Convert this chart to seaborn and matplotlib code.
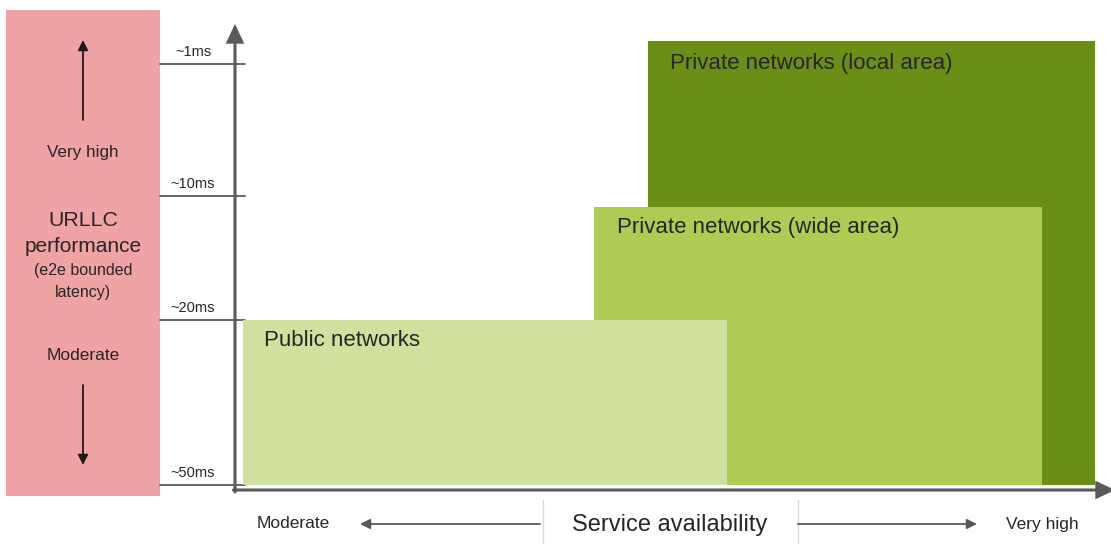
import matplotlib
matplotlib.use("Agg")
import matplotlib.pyplot as plt
from matplotlib.patches import Rectangle
import seaborn as sns

# ---- data ----
networks = ["Private networks (local area)", "Private networks (wide area)", "Public networks"]
avail_start = [41.3, 35.9, 0.8]
avail_end = [86.0, 80.7, 49.2]
latency_top = [44.9, 28.3, 17.0]
latency_bottom = [0.5, 0.5, 0.5]
colors = ["#6B8E17", "#AECB53", "#D0E09D"]

latency_ticks = [0.5, 17.0, 29.4, 42.6]
latency_labels = ["~50ms", "~20ms", "~10ms", "~1ms"]

sns.set_theme(style="white")
plt.rcParams['font.family'] = ['Liberation Sans', 'DejaVu Sans']

TXT = "#262626"
GRAY = "#595959"

fig = plt.figure(figsize=(11.11, 5.44), dpi=100)
W, H = 1111, 544
ax = fig.add_axes([235 / W, (H - 490) / H, (W - 235) / W, (490 - 25) / H])
ax.set_xlim(0, 87.6)
ax.set_ylim(0, 46.5)
for s in ax.spines.values():
    s.set_visible(False)
ax.set_xticks([])
ax.set_yticks([])
ax.patch.set_alpha(0)

# pink panel
ax.add_patch(Rectangle((-22.9, -0.6), 15.4, 48.6, facecolor="#EFA3A5",
                       edgecolor="none", clip_on=False, zorder=0))

# bars
for name, x0, x1, y0, y1, c in zip(networks, avail_start, avail_end,
                                     latency_bottom, latency_top, colors):
    ax.bar(x0, y1 - y0, width=x1 - x0, bottom=y0, align="edge",
           color=c, edgecolor="none", zorder=2)

label_pos = [(43.5, 42.7), (38.2, 26.3), (2.9, 15.0)]
for name, (lx, ly) in zip(networks, label_pos):
    ax.text(lx, ly, name, fontsize=16, color=TXT, ha="left", va="center", zorder=3)

# latency ticks
for t, lab in zip(latency_ticks, latency_labels):
    ax.plot([-7.5, 1.0], [t, t], color=GRAY, lw=1.3, clip_on=False, zorder=1)
    ax.text(-4.2, t + 1.2, lab, fontsize=10.5, color=TXT, ha="center",
            va="center", clip_on=False)

# axes arrows
big = "-|>,head_length=0.7,head_width=0.33"
ax.annotate("", xy=(0, 46.6), xytext=(0, -0.2), annotation_clip=False,
            arrowprops=dict(arrowstyle=big, lw=2.2, color=GRAY, joinstyle="miter",
                            mutation_scale=15, shrinkA=0, shrinkB=0), zorder=4)
ax.annotate("", xy=(88.0, 0), xytext=(-0.15, 0), annotation_clip=False,
            arrowprops=dict(arrowstyle=big, lw=2.2, color=GRAY, joinstyle="miter",
                            mutation_scale=15, shrinkA=0, shrinkB=0), zorder=4)

# left panel texts
small = "-|>,head_length=0.6,head_width=0.3"
cx = -15.2
ax.annotate("", xy=(cx, 45.0), xytext=(cx, 37.0), annotation_clip=False,
            arrowprops=dict(arrowstyle=small, lw=1.3, color="#1a1a1a",
                            mutation_scale=10, shrinkA=0, shrinkB=0))
ax.annotate("", xy=(cx, 2.5), xytext=(cx, 10.5), annotation_clip=False,
            arrowprops=dict(arrowstyle=small, lw=1.3, color="#1a1a1a",
                            mutation_scale=10, shrinkA=0, shrinkB=0))
ax.text(cx, 33.8, "Very high", fontsize=12.3, color=TXT, ha="center", va="center")
ax.text(cx, 27.0, "URLLC", fontsize=15.3, color=TXT, ha="center", va="center")
ax.text(cx, 24.3, "performance", fontsize=15, color=TXT, ha="center", va="center")
ax.text(cx, 21.9, "(e2e bounded", fontsize=11.5, color=TXT, ha="center", va="center")
ax.text(cx, 19.7, "latency)", fontsize=11.5, color=TXT, ha="center", va="center")
ax.text(cx, 13.5, "Moderate", fontsize=12.5, color=TXT, ha="center", va="center")

# bottom axis texts
yb = -3.4
ax.text(5.8, yb, "Moderate", fontsize=12.5, color=TXT, ha="center", va="center")
ax.text(80.7, yb, "Very high", fontsize=12.5, color=TXT, ha="center", va="center")
ax.text(43.5, yb - 0.1, "Service availability", fontsize=17, color=TXT,
        ha="center", va="center")
for vx in (30.8, 56.3):
    ax.plot([vx, vx], [-1.0, -5.6], color="#D9D9D9", lw=1, clip_on=False)
ax.annotate("", xy=(12.5, yb), xytext=(30.5, yb), annotation_clip=False,
            arrowprops=dict(arrowstyle=small, lw=1.3, color=GRAY,
                            mutation_scale=10, shrinkA=0, shrinkB=0))
ax.annotate("", xy=(74.2, yb), xytext=(56.3, yb), annotation_clip=False,
            arrowprops=dict(arrowstyle=small, lw=1.3, color=GRAY,
                            mutation_scale=10, shrinkA=0, shrinkB=0))

fig.savefig("out.png", dpi=100, facecolor="white")
